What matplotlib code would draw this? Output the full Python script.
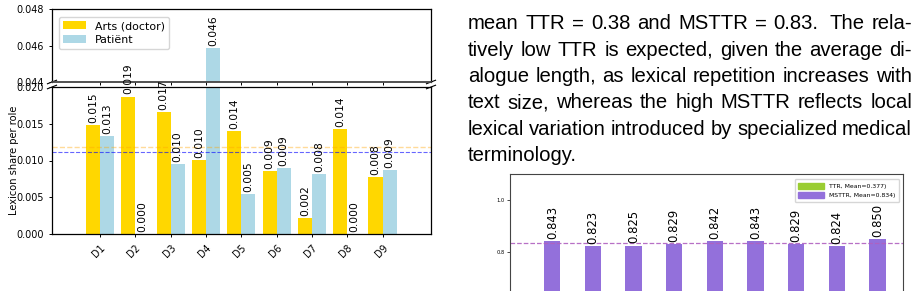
import matplotlib
matplotlib.use("Agg")
import matplotlib.pyplot as plt
import numpy as np
from matplotlib.patches import Patch

# ---------------- data ----------------
dialogues = ["D1", "D2", "D3", "D4", "D5", "D6", "D7", "D8", "D9"]
doctor_share = [0.01485, 0.0187, 0.0166, 0.01008, 0.01403, 0.00853, 0.00218, 0.0143, 0.00776]
patient_share = [0.01335, 0.0, 0.00954, 0.04586, 0.00545, 0.00899, 0.00817, 0.0, 0.00876]
series_names = ["Arts (doctor)", "Patiënt"]

msttr_values = [0.843, 0.823, 0.825, 0.829, 0.842, 0.843, 0.829, 0.824, 0.850]
ttr_mean = 0.377
legend_right = ["TTR, Mean=0.377)", "MSTTR, Mean=0.834)"]

body_lines = [
    "mean TTR = 0.38 and MSTTR = 0.83.  The rela-",
    "tively low TTR is expected, given the average di-",
    "alogue length, as lexical repetition increases with",
    "text size, whereas the high MSTTR reflects local",
    "lexical variation introduced by specialized medical",
    "terminology.",
]

# ---------------- figure ----------------
W, H = 919, 291
fig = plt.figure(figsize=(W / 100, H / 100), dpi=100)

def fx(px):
    return px / W

def fy(py):
    return 1 - py / H

tick_fs = 6.9
lab_fs = 7.7
gold = "#FFD700"
lblue = "#ADD8E6"

x = np.arange(len(dialogues))
w = 0.4

ax_top = fig.add_axes([fx(52), fy(82), fx(431) - fx(52), fy(9) - fy(82)])
ax_bot = fig.add_axes([fx(52), fy(234), fx(431) - fx(52), fy(87) - fy(234)])

for ax, clip in ((ax_top, True), (ax_bot, False)):
    b1 = ax.bar(x - w / 2, doctor_share, w, color=gold, label=series_names[0])
    b2 = ax.bar(x + w / 2, patient_share, w, color=lblue, label=series_names[1])
    lo, hi = (0.044, 0.048) if ax is ax_top else (0.0, 0.020)
    for bars, vals in ((b1, doctor_share), (b2, patient_share)):
        for rect, v in zip(bars, vals):
            if not (lo <= v <= hi):
                continue
            ax.annotate(f"{v:.3f}", (rect.get_x() + rect.get_width() / 2, v),
                        xytext=(0, 1.5), textcoords="offset points",
                        ha="center", va="bottom", rotation=90, fontsize=lab_fs,
                        annotation_clip=False, clip_on=clip, zorder=5)
    ax.axhline(np.mean(doctor_share), color="orange", ls="--", lw=1.0, alpha=0.4)
    ax.axhline(np.mean(patient_share), color="blue", ls="--", lw=0.8, alpha=0.6)
    ax.set_xlim(-1.36, 9.37)
    ax.tick_params(labelsize=tick_fs, length=2.5, width=0.7)
    for s in ax.spines.values():
        s.set_linewidth(0.9)

ax_top.set_ylim(0.044, 0.048)
ax_top.set_yticks([0.044, 0.046, 0.048])
ax_top.set_yticklabels(["0.044", "0.046", "0.048"])
ax_bot.set_ylim(0.0, 0.020)
ax_bot.set_yticks([0.0, 0.005, 0.010, 0.015, 0.020])
ax_bot.set_yticklabels(["0.000", "0.005", "0.010", "0.015", "0.020"])

ax_top.set_xticks(x)
ax_top.tick_params(axis="x", labelbottom=False)
ax_top.spines["bottom"].set_color("#444444")
ax_top.spines["bottom"].set_linewidth(1.3)
ax_bot.set_xticks(x)
ax_bot.set_xticklabels(dialogues, rotation=45, ha="right", rotation_mode="anchor",
                       fontsize=tick_fs)
ax_bot.set_ylabel("Lexicon share per role", fontsize=tick_fs + 0.2)
ax_bot.yaxis.set_label_coords(-0.088, 0.5)

ax_top.legend(loc="upper left", fontsize=7.9, handlelength=2.1,
              borderpad=0.4, labelspacing=0.35, framealpha=0.8,
              bbox_to_anchor=(0.003, 0.97))

# break marks
d = 0.012
kw = dict(color="k", clip_on=False, lw=0.8)
ax_top.plot((-d, +d), (-2 * d, +2 * d), transform=ax_top.transAxes, **kw)
ax_top.plot((1 - d, 1 + d), (-2 * d, +2 * d), transform=ax_top.transAxes, **kw)
ax_bot.plot((-d, +d), (1 - d, 1 + d), transform=ax_bot.transAxes, **kw)
ax_bot.plot((1 - d, 1 + d), (1 - d, 1 + d), transform=ax_bot.transAxes, **kw)

# ---------------- right chart (partially visible) ----------------
px_per_unit = 260.0
ytop = 1.1
top_px = 174
bot_px = top_px + ytop * px_per_unit
ax_r = fig.add_axes([fx(510), fy(bot_px), fx(903) - fx(510), fy(top_px) - fy(bot_px)])
xr = np.arange(len(msttr_values))
bars_r = ax_r.bar(xr + w / 2, msttr_values, w, color="mediumpurple")
for rect, v in zip(bars_r, msttr_values):
    ax_r.annotate(f"{v:.3f}", (rect.get_x() + rect.get_width() / 2, v),
                  xytext=(0, 1.5), textcoords="offset points",
                  ha="center", va="bottom", rotation=90, fontsize=8.4)
ax_r.axhline(np.mean(msttr_values), color="#b060c0", ls="--", lw=0.9, alpha=0.9)
ax_r.set_xlim(-0.84, 8.83)
ax_r.set_ylim(0, ytop)
ax_r.set_yticks([0.8, 1.0])
ax_r.set_xticks([])
ax_r.tick_params(axis="y", labelsize=3.7, length=2, width=0.5, pad=1.5)
for s in ax_r.spines.values():
    s.set_linewidth(0.8)
    s.set_color("#444444")
handles = [Patch(color="yellowgreen"), Patch(color="mediumpurple")]
ax_r.legend(handles, legend_right, loc="upper right", fontsize=4.4,
            handlelength=4.2, handleheight=1.1, borderpad=0.6, labelspacing=0.55,
            bbox_to_anchor=(fx(902), fy(176)), bbox_transform=fig.transFigure)

# ---------------- body text (justified) ----------------
fs_txt = 14.6
fam = ["Liberation Sans", "DejaVu Sans"]
left_px, right_px = 468.0, 912.0
base0, lstep = 29.3, 26.4

fig.canvas.draw()
renderer = fig.canvas.get_renderer()
for li, line in enumerate(body_lines):
    yb = base0 + li * lstep
    raw = line.split(" ")
    tokens = []
    gaps = []
    extra = 0.0
    for tkn in raw:
        if tkn == "":
            extra += 0.6
            continue
        if tokens:
            gaps.append(1.0 + extra)
        extra = 0.0
        tokens.append(tkn)
    arts = [fig.text(0, 0, t, fontsize=fs_txt, family=fam, va="baseline", ha="left")
            for t in tokens]
    widths = [a.get_window_extent(renderer).width for a in arts]
    last = li == len(body_lines) - 1
    if last or len(tokens) == 1:
        unit = fs_txt * 100 / 72 * 0.278
    else:
        total_gap = (right_px - left_px) - sum(widths)
        unit = total_gap / sum(gaps)
    xpos = left_px
    for i, a in enumerate(arts):
        a.set_position((fx(xpos), fy(yb)))
        xpos += widths[i]
        if i < len(gaps):
            xpos += unit * gaps[i]

fig.savefig("out.png", dpi=100)
